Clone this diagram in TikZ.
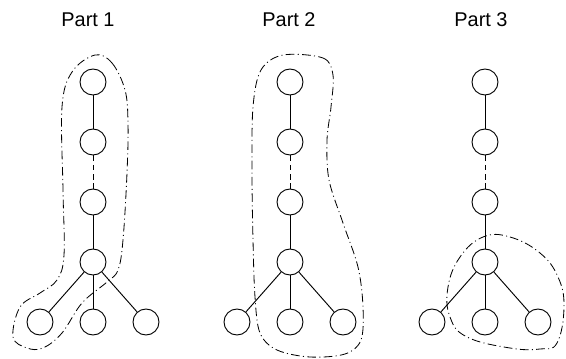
\documentclass[tikz,border=0pt]{standalone}
\usepackage{fontspec}
\setmainfont{Liberation Sans}

\begin{document}
\begin{tikzpicture}[x=0.3mm,y=-0.3mm,node distance=18mm,line width=0.8pt,
  main node/.style={circle,fill=white,draw,minimum size=7.8mm,inner sep=0pt},
  part title/.style={font=\fontsize{17}{20}\selectfont},
  hull/.style={line width=0.7pt,dash pattern=on 2.6mm off 1mm on 0.3mm off 1mm}]

 \useasboundingbox (0,0) rectangle (566,358);

 % titles
 \node[part title] (t1) at (88,20) {Part 1};
 \node[part title] (t2) at (289,20) {Part 2};
 \node[part title] (t3) at (481,20) {Part 3};

 % hulls around the parts
 \draw[hull] plot[smooth cycle,tension=0.6] coordinates {(95,55) (112,63) (125,90)
   (128,123) (127,173) (123,240) (118,270) (107,282) (82,303) (62,333) (43,348)
   (27,348) (13,337) (20,307) (40,293) (57,280) (64,255) (63,190) (62,107) (72,72)};
 \draw[hull] plot[smooth cycle,tension=0.55] coordinates {(283,55) (323,58) (333,75)
   (331,107) (327,140) (329,180) (343,223) (358,267) (363,307) (361,340) (345,354)
   (310,357) (277,350) (260,333) (255,297) (253,240) (252,173) (253,107) (261,70)};
 \draw[hull] plot[smooth cycle,tension=0.7] coordinates {(483,237) (510,237) (540,253)
   (558,277) (564,307) (557,343) (540,349) (510,348) (467,337) (450,317) (448,287)
   (460,257)};

 % part 1
 \node[main node] (p1n1) at (93,82) {};
 \node[main node] (p1n2) [below of=p1n1] {};
 \node[main node] (p1n3) [below of=p1n2] {};
 \node[main node] (p1n4) [below of=p1n3] {};
 \node[main node] (p1n6) [below of=p1n4] {};
 \node[main node] (p1n5) [left of=p1n6,node distance=15.9mm] {};
 \node[main node] (p1n7) [right of=p1n6,node distance=15.9mm] {};

 % part 2
 \node[main node] (p2n1) at (290,82) {};
 \node[main node] (p2n2) [below of=p2n1] {};
 \node[main node] (p2n3) [below of=p2n2] {};
 \node[main node] (p2n4) [below of=p2n3] {};
 \node[main node] (p2n6) [below of=p2n4] {};
 \node[main node] (p2n5) [left of=p2n6,node distance=15.9mm] {};
 \node[main node] (p2n7) [right of=p2n6,node distance=15.9mm] {};

 % part 3
 \node[main node] (p3n1) at (485,82) {};
 \node[main node] (p3n2) [below of=p3n1] {};
 \node[main node] (p3n3) [below of=p3n2] {};
 \node[main node] (p3n4) [below of=p3n3] {};
 \node[main node] (p3n6) [below of=p3n4] {};
 \node[main node] (p3n5) [left of=p3n6,node distance=15.9mm] {};
 \node[main node] (p3n7) [right of=p3n6,node distance=15.9mm] {};

 \path[every edge/.style={draw,line width=0.8pt}]
    (p1n1) edge (p1n2)
    (p1n2) edge [dash pattern=on 1.7mm off 1.1mm] (p1n3)
    (p1n3) edge (p1n4)
    (p1n4) edge (p1n5)
    (p1n4) edge (p1n6)
    (p1n4) edge (p1n7)
    (p2n1) edge (p2n2)
    (p2n2) edge [dash pattern=on 1.7mm off 1.1mm] (p2n3)
    (p2n3) edge (p2n4)
    (p2n4) edge (p2n5)
    (p2n4) edge (p2n6)
    (p2n4) edge (p2n7)
    (p3n1) edge (p3n2)
    (p3n2) edge [dash pattern=on 1.7mm off 1.1mm] (p3n3)
    (p3n3) edge (p3n4)
    (p3n4) edge (p3n5)
    (p3n4) edge (p3n6)
    (p3n4) edge (p3n7);

\end{tikzpicture}
\end{document}
